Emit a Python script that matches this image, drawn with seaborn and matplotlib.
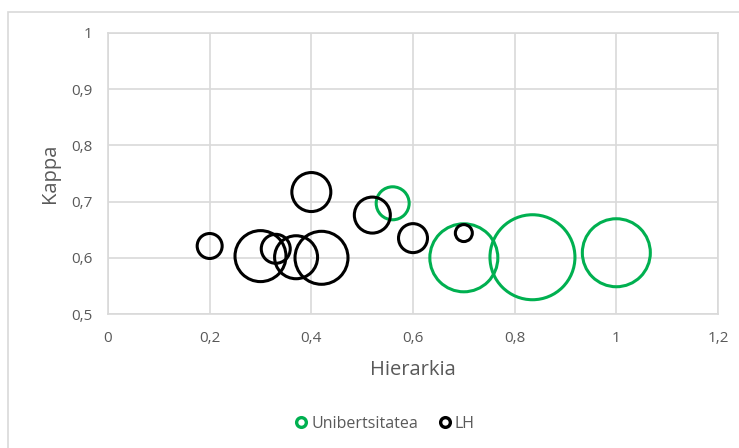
import matplotlib
matplotlib.use("Agg")
import matplotlib.pyplot as plt
import seaborn as sns
import pandas as pd
from matplotlib.lines import Line2D
from matplotlib.patches import Rectangle
from matplotlib.ticker import FuncFormatter

# ---- data ----
series_names = ["Unibertsitatea", "LH"]
uni_hierarkia = [0.56, 0.70, 0.835, 1.00]
uni_kappa = [0.697, 0.600, 0.601, 0.609]
uni_tamaina = [272, 1156, 1806, 1156]

lh_hierarkia = [0.20, 0.30, 0.33, 0.37, 0.42, 0.40, 0.52, 0.60, 0.70]
lh_kappa = [0.621, 0.603, 0.616, 0.601, 0.600, 0.717, 0.676, 0.635, 0.644]
lh_tamaina = [156, 650, 210, 462, 702, 380, 324, 210, 72]

x_label = "Hierarkia"
y_label = "Kappa"
x_ticks = [0, 0.2, 0.4, 0.6, 0.8, 1.0, 1.2]
y_ticks = [0.5, 0.6, 0.7, 0.8, 0.9, 1.0]

colors = {"Unibertsitatea": "#00B050", "LH": "#000000"}
text_color = "#595959"
grid_color = "#d9d9d9"

df = pd.concat([
    pd.DataFrame({"Hierarkia": uni_hierarkia, "Kappa": uni_kappa,
                  "Tamaina": uni_tamaina, "Serie": series_names[0]}),
    pd.DataFrame({"Hierarkia": lh_hierarkia, "Kappa": lh_kappa,
                  "Tamaina": lh_tamaina, "Serie": series_names[1]}),
], ignore_index=True)

sns.set_style("white")
plt.rcParams["font.family"] = ["Open Sans", "DejaVu Sans"]

W, H = 739, 448
fig = plt.figure(figsize=(W / 100, H / 100), dpi=100)
ax = fig.add_axes([108 / W, 1 - 314 / H, 610 / W, 281 / H])

vmax = max(df["Tamaina"])
smax = 2.0736 * vmax
for name in series_names:
    sub = df[df["Serie"] == name]
    sns.scatterplot(data=sub, x="Hierarkia", y="Kappa", size="Tamaina",
                    sizes=(0, smax), size_norm=(0, vmax), legend=False,
                    ax=ax, linewidth=2.2)
    coll = ax.collections[-1]
    coll.set_facecolor("none")
    coll.set_edgecolor(colors[name])
    coll.set_linewidth(2.2)

ax.set_xlim(0, 1.2)
ax.set_ylim(0.5, 1.0)
ax.set_xticks(x_ticks)
ax.set_yticks(y_ticks)
fmt = FuncFormatter(lambda v, p: f"{v:g}".replace(".", ","))
ax.xaxis.set_major_formatter(fmt)
ax.yaxis.set_major_formatter(fmt)
ax.grid(True, color=grid_color, linewidth=1.2)
ax.set_axisbelow(True)
for s in ax.spines.values():
    s.set_color(grid_color)
    s.set_linewidth(1.2)
ax.tick_params(axis="both", length=0, labelsize=11, labelcolor=text_color)
ax.tick_params(axis="x", pad=12)
ax.tick_params(axis="y", pad=11)

ax.set_xlabel(x_label, fontsize=14.5, color=text_color)
ax.set_ylabel(y_label, fontsize=14.5, color=text_color)
ax.xaxis.label.set_va("center")
ax.yaxis.label.set_va("center")
ax.xaxis.set_label_coords(0.5, (314 - 370) / 281)
ax.yaxis.set_label_coords((50 - 108) / 610, 0.5)

# outer chart border (extends beyond the right and bottom edges)
fig.patches.append(Rectangle((8 / W, -0.1), 1.2, 1 - 12 / H + 0.1,
                             transform=fig.transFigure, fill=False,
                             edgecolor=grid_color, linewidth=1.2))

handles = [Line2D([], [], linestyle="none", marker="o", markersize=7,
                  markerfacecolor="none", markeredgecolor=colors[n],
                  markeredgewidth=2.4) for n in series_names]
leg = fig.legend(handles, series_names, loc="center",
                 bbox_to_anchor=(384 / W, 1 - 424 / H), ncol=2, frameon=False,
                 handletextpad=0.1, columnspacing=1.2, handlelength=1.0,
                 fontsize=11.5)
for t in leg.get_texts():
    t.set_color(text_color)

fig.savefig("out.png", dpi=100)
